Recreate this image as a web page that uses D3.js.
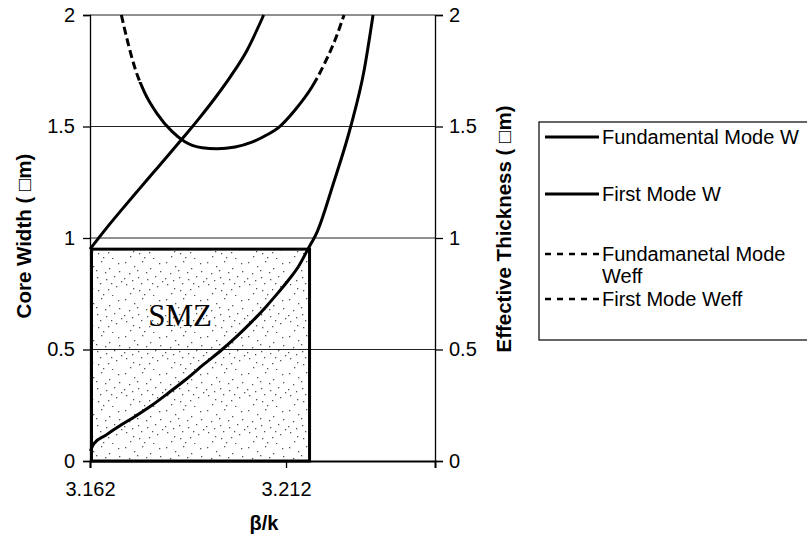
<!DOCTYPE html>
<html>
<head>
<meta charset="utf-8">
<script src="https://cdn.jsdelivr.net/npm/d3@7"></script>
<style>
  html, body { margin: 0; padding: 0; background: #fff; }
  svg { display: block; }
  text { font-family: "Liberation Sans", Arial, sans-serif; fill: #000; }
</style>
</head>
<body>
<svg id="chart" width="807" height="542"></svg>
<script>
// Axis ticks
const xTicks = [3.162, 3.212];
const yTicks = [0, 0.5, 1, 1.5, 2];

// Fundamental mode core width W vs beta/k
const fundBeta = [3.1621, 3.1630, 3.1660, 3.1691, 3.1735, 3.1778, 3.1820, 3.1862, 3.1910, 3.1957, 3.1995, 3.2033, 3.2068, 3.2100, 3.2128, 3.2151, 3.2176, 3.2200, 3.2240, 3.2285, 3.2319, 3.2342];
const fundW    = [0.045,  0.078,  0.115,  0.152,  0.200,  0.250,  0.305,  0.362,  0.433,  0.500,  0.560,  0.625,  0.690,  0.755,  0.815,  0.870,  0.950,  1.030,  1.240,  1.500,  1.750,  2.000];

// First mode core width W vs beta/k
const firstBeta = [3.1620, 3.1660, 3.1700, 3.1740, 3.1780, 3.1820, 3.1860, 3.1900, 3.1940, 3.1980, 3.2020, 3.2063];
const firstW    = [0.950,  1.040,  1.125,  1.208,  1.290,  1.372,  1.455,  1.540,  1.630,  1.728,  1.840,  2.000];

// Fundamental mode effective thickness Weff vs beta/k
const fundEffBeta = [3.1700, 3.1717, 3.1735, 3.1760, 3.1791, 3.1829, 3.1862, 3.1906, 3.1944, 3.1990, 3.2033, 3.2074, 3.2100, 3.2143, 3.2186, 3.2219, 3.2245, 3.2268];
const fundEff     = [2.000,  1.874,  1.760,  1.650,  1.558,  1.478,  1.432,  1.405,  1.400,  1.408,  1.430,  1.465,  1.494,  1.574,  1.677,  1.785,  1.888,  2.000];

// Single-mode zone bounds
const smzBeta = [3.162, 3.2180];
const smzW = [0, 0.95];

// Legend entries
const legendNames = ["Fundamental Mode W", "First Mode W", "Fundamanetal Mode\nWeff", "First Mode Weff"];
const legendDashed = [false, false, true, true];

const svg = d3.select("#chart");
const x = d3.scaleLinear().domain([3.162, 3.25]).range([90, 435]);
const y = d3.scaleLinear().domain([0, 2]).range([461, 15]);

const defs = svg.append("defs");

// Stipple texture for the single-mode zone
const stip = defs.append("pattern")
  .attr("id", "stipple").attr("patternUnits", "userSpaceOnUse")
  .attr("width", 41).attr("height", 37);
const dots = [[2,3],[11,7],[19,2],[27,9],[36,4],[6,14],[15,18],[23,13],[32,17],[39,22],
              [3,25],[10,29],[18,24],[26,30],[34,27],[7,34],[21,35],[30,36],[14,11],[37,12],
              [24,20],[1,19],[16,31],[29,24],[9,21]];
stip.selectAll("rect").data(dots).join("rect")
  .attr("x", d => d[0]).attr("y", d => d[1])
  .attr("width", 1.3).attr("height", 1.3).attr("fill", "#555");

// Clip regions: Weff curve shows dashes only near the top of the plot
const dashLimit = 1.7;
defs.append("clipPath").attr("id", "clipTop").append("rect")
  .attr("x", 0).attr("y", 0).attr("width", 807).attr("height", y(dashLimit));
defs.append("clipPath").attr("id", "clipBottom").append("rect")
  .attr("x", 0).attr("y", y(dashLimit)).attr("width", 807).attr("height", 542 - y(dashLimit));

// Gridlines
svg.append("g").selectAll("line").data(yTicks.filter(v => v > 0)).join("line")
  .attr("x1", x.range()[0]).attr("x2", x.range()[1])
  .attr("y1", d => y(d)).attr("y2", d => y(d))
  .attr("stroke", "#222").attr("stroke-width", 1);

// Left axis
const leftAxis = svg.append("g").attr("transform", `translate(${x.range()[0]},0)`)
  .call(d3.axisLeft(y).tickValues(yTicks).tickFormat(d3.format("")).tickSize(7).tickPadding(8));
// Right axis
const rightAxis = svg.append("g").attr("transform", `translate(${x.range()[1]},0)`)
  .call(d3.axisRight(y).tickValues(yTicks).tickFormat(d3.format("")).tickSize(8).tickPadding(6));
// Bottom axis
const bottomAxis = svg.append("g").attr("transform", `translate(0,${y(0)})`)
  .call(d3.axisBottom(x).tickValues(xTicks).tickFormat(d3.format(".3f")).tickSize(7).tickPadding(14));

[leftAxis, rightAxis, bottomAxis].forEach(g => {
  g.select(".domain").attr("stroke", "#000").attr("stroke-width", 1.3);
  g.selectAll(".tick line").attr("stroke", "#000").attr("stroke-width", 1.3);
  g.selectAll(".tick text").style("font-size", "20px").attr("fill", "#000");
});
bottomAxis.select(".domain").attr("stroke-width", 2);

// Single-mode zone box
svg.append("rect")
  .attr("x", x(smzBeta[0]) + 1.5).attr("y", y(smzW[1]))
  .attr("width", x(smzBeta[1]) - x(smzBeta[0]) - 1.5)
  .attr("height", y(smzW[0]) - y(smzW[1]))
  .attr("fill", "url(#stipple)")
  .attr("stroke", "#000").attr("stroke-width", 3);

svg.append("text")
  .attr("x", 180).attr("y", 326)
  .attr("text-anchor", "middle")
  .style("font-family", "'Liberation Serif', 'Times New Roman', serif")
  .style("font-size", "31px")
  .text("SMZ");

// Curves
const line = d3.line().x(d => x(d[0])).y(d => y(d[1])).curve(d3.curveMonotoneX);

svg.append("path").datum(d3.zip(fundBeta, fundW))
  .attr("d", line).attr("fill", "none").attr("stroke", "#000").attr("stroke-width", 3);
svg.append("path").datum(d3.zip(firstBeta, firstW))
  .attr("d", line).attr("fill", "none").attr("stroke", "#000").attr("stroke-width", 3);

const effData = d3.zip(fundEffBeta, fundEff);
svg.append("path").datum(effData).attr("clip-path", "url(#clipTop)")
  .attr("d", line).attr("fill", "none").attr("stroke", "#000").attr("stroke-width", 3)
  .attr("stroke-dasharray", "8,4");
svg.append("path").datum(effData).attr("clip-path", "url(#clipBottom)")
  .attr("d", line).attr("fill", "none").attr("stroke", "#000").attr("stroke-width", 3);

// Axis titles
svg.append("text")
  .attr("transform", "translate(31,236) rotate(-90)")
  .attr("text-anchor", "middle")
  .style("font-size", "20.5px").style("font-weight", "bold")
  .text("Core Width ( \u25A1m)");
svg.append("text")
  .attr("transform", "translate(511,229) rotate(-90)")
  .attr("text-anchor", "middle")
  .style("font-size", "20.5px").style("font-weight", "bold")
  .text("Effective Thickness ( \u25A1m)");
svg.append("text")
  .attr("x", 264).attr("y", 530)
  .attr("text-anchor", "middle")
  .style("font-size", "20px").style("font-weight", "bold")
  .text("\u03B2/k");

// Legend
const legend = svg.append("g");
legend.append("rect")
  .attr("x", 539).attr("y", 122).attr("width", 280).attr("height", 218)
  .attr("fill", "#fff").attr("stroke", "#000").attr("stroke-width", 1.2);
const rowY = [137, 194, 254, 299];
legendNames.forEach((name, i) => {
  legend.append("line")
    .attr("x1", 545).attr("x2", 599)
    .attr("y1", rowY[i]).attr("y2", rowY[i])
    .attr("stroke", "#000").attr("stroke-width", legendDashed[i] ? 2.5 : 3)
    .attr("stroke-dasharray", legendDashed[i] ? "6,6" : null);
  const t = legend.append("text")
    .attr("x", 602).attr("y", rowY[i] + 7)
    .style("font-size", "20px");
  name.split("\n").forEach((part, k) => {
    t.append("tspan").attr("x", 602).attr("dy", k === 0 ? 0 : 22).text(part);
  });
});
</script>
</body>
</html>
